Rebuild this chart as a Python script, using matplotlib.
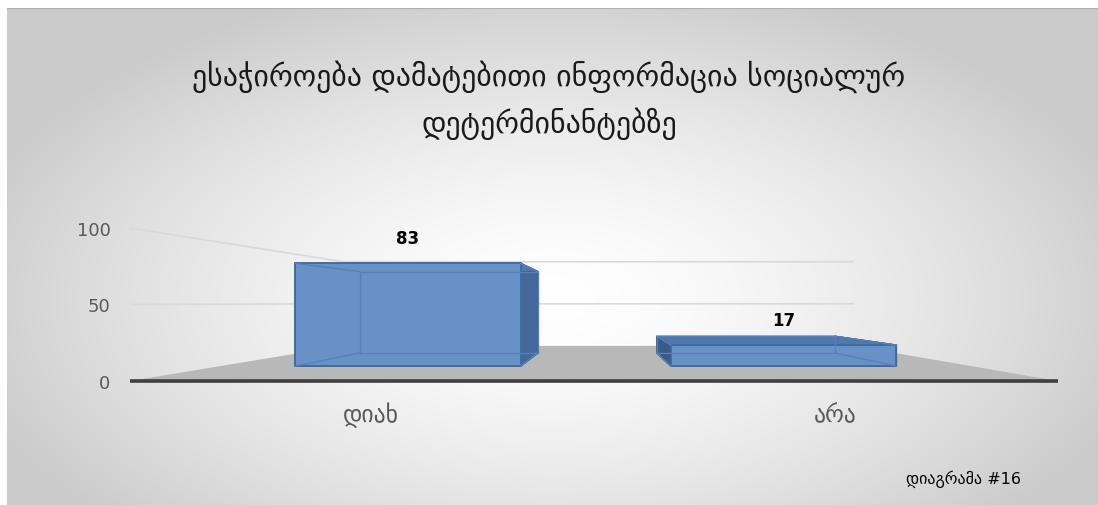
import numpy as np
import matplotlib.pyplot as plt
from matplotlib.patches import Polygon

# data
categories = ['დიახ', 'არა']
values = [83, 17]
yticks = [0, 50, 100]
title = 'ესაჭიროება დამატებითი ინფორმაცია სოციალურ\nდეტერმინანტებზე'
footnote = 'დიაგრამა #16'

# perspective settings (Excel-like 3D view)
xc, vc = 1.02, 51.0        # vanishing point in data units
s_floor_back = 0.55
s_bar_front, s_bar_back = 0.81, 0.64
bar_w = 0.6


def proj(x, v, s):
    return xc + (x - xc) * s, vc + (v - vc) * s


W, H = 1098, 506
fig = plt.figure(figsize=(W / 100, H / 100), dpi=100)

# background with radial gradient
bg = fig.add_axes([7 / W, 0, (W - 7) / W, (H - 9) / H])
bg.set_axis_off()
yy, xx = np.mgrid[0:497, 0:1091]
d = np.sqrt(((xx - 545) / 600.0) ** 2 + ((yy - 290) / 320.0) ** 2)
g = 1.0 - 0.2 * np.clip(d, 0, 1.0) ** 1.5
bg.imshow(np.dstack([g, g, g]), aspect='auto', extent=[0, 1, 0, 1])
bg.axhline(1, color='#b0b0b0', lw=1.5)

# main axes: x 0..2 -> px 130..1058 ; y -10..110 -> px 397..214
ax = fig.add_axes([130 / W, 1 - 397.3 / H, 928 / W, 183.6 / H])
ax.set_xlim(0, 2)
ax.set_ylim(-10, 110)
ax.patch.set_alpha(0)
for sp in ax.spines.values():
    sp.set_visible(False)

# floor
floor = [proj(0, 0, 1), proj(2, 0, 1), proj(2, 0, s_floor_back), proj(0, 0, s_floor_back)]
ax.add_patch(Polygon(floor, closed=True, facecolor='#b8b8b8', edgecolor='none', zorder=1))
ax.plot([0, 2], [0, 0], color='#3f3f3f', lw=2.6, zorder=2, solid_capstyle='round')

# gridlines on left and back walls
for t in yticks[1:]:
    p0 = proj(0, t, 1)
    p1 = proj(0, t, s_floor_back)
    p2 = proj(2, t, s_floor_back)
    ax.plot([p0[0], p1[0], p2[0]], [p0[1], p1[1], p2[1]], color='#d9d9d9', lw=1.2, zorder=1)

# bars
xs = np.arange(len(categories)) + 0.5
for x, v in zip(xs, values):
    x0, x1 = x - bar_w / 2, x + bar_w / 2
    f = [proj(x0, 0, s_bar_front), proj(x1, 0, s_bar_front),
         proj(x1, v, s_bar_front), proj(x0, v, s_bar_front)]
    b = [proj(x0, 0, s_bar_back), proj(x1, 0, s_bar_back),
         proj(x1, v, s_bar_back), proj(x0, v, s_bar_back)]
    # side faces: bottom, right, top, left
    side_cols = ['#4e79b0', '#44689a', '#4f78ad', '#3d5a82']
    for i, col in enumerate(side_cols):
        j = (i + 1) % 4
        ax.add_patch(Polygon([f[i], f[j], b[j], b[i]], closed=True, facecolor=col,
                             edgecolor='#3b628f', lw=1, zorder=3))
    ax.add_patch(Polygon(f, closed=True, facecolor='#6892c7', edgecolor='#3d6aa0',
                         lw=1.3, zorder=4))
    # hidden edges seen through the front face
    bx = [p[0] for p in b] + [b[0][0]]
    by = [p[1] for p in b] + [b[0][1]]
    ax.plot(bx, by, color='#5580b8', lw=1, zorder=5)
    for i in range(4):
        ax.plot([f[i][0], b[i][0]], [f[i][1], b[i][1]], color='#5580b8', lw=1, zorder=5)
    top = proj(x, v, s_bar_front)
    ax.annotate(str(v), top, xytext=(0, 18), textcoords='offset points',
                ha='center', va='center', fontsize=12, fontweight='bold', color='black')

ax.set_yticks(yticks)
ax.set_yticklabels([str(t) for t in yticks], fontsize=13, color='#595959')
ax.set_xticks(xs + 0.02)
ax.set_xticklabels(categories, fontsize=17, color='#595959')
ax.tick_params(axis='y', length=0, pad=14)
ax.tick_params(axis='x', length=0, pad=4)

fig.text(0.5, 1 - 100 / H, title, ha='center', va='center', fontsize=21.5,
         color='#1a1a1a', linespacing=1.55)
fig.text(906 / W, 1 - 479 / H, footnote, ha='left', va='center', fontsize=11.5, color='black')

fig.savefig('out.png', dpi=100)
